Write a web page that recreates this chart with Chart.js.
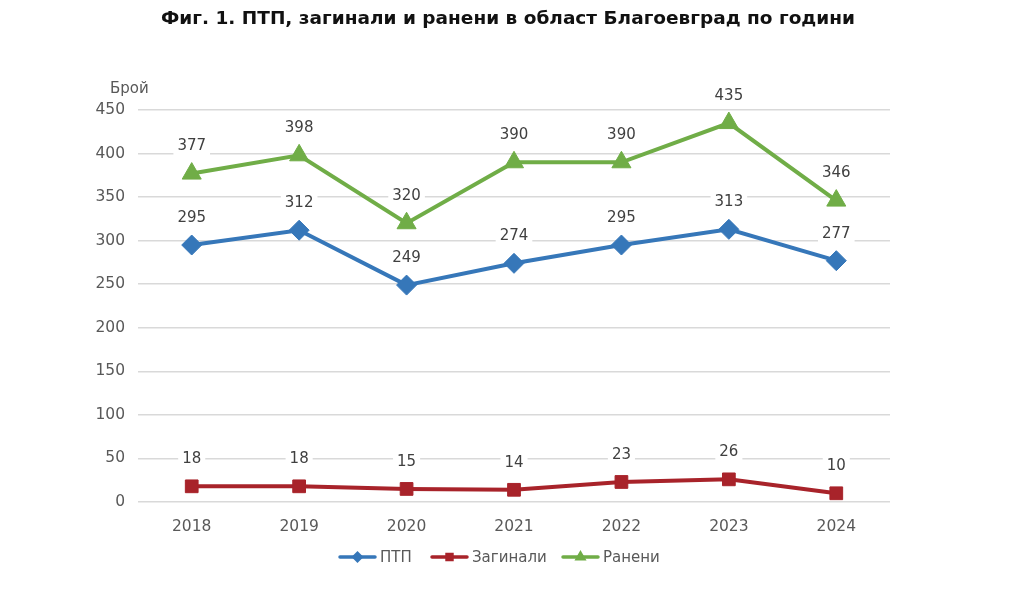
<!DOCTYPE html>
<html>
<head>
<meta charset="utf-8">
<script src="https://cdn.jsdelivr.net/npm/chart.js@4.4.1/dist/chart.umd.min.js"></script>
<style>
  body { margin: 0; background: #fff; }
  #wrap { width: 1024px; height: 605px; position: relative; }
</style>
</head>
<body>
<div id="wrap"><canvas id="myChart"></canvas></div>
<script>
var years = ["2018", "2019", "2020", "2021", "2022", "2023", "2024"];
var ptpValues = [295, 312, 249, 274, 295, 313, 277];
var deadValues = [18, 18, 15, 14, 23, 26, 10];
var injuredValues = [377, 398, 320, 390, 390, 435, 346];
var seriesNames = ["ПТП", "Загинали", "Ранени"];
var yTicks = [0, 50, 100, 150, 200, 250, 300, 350, 400, 450];

var titleText = "Фиг. 1. ПТП, загинали и ранени в област Благоевград по години";
var fontFam = "'DejaVu Sans', Verdana, sans-serif";

// labels above every point, on a white box
var valueLabels = {
  id: "valueLabels",
  afterDatasetsDraw(chart) {
    let ctx = chart.ctx;
    ctx.save();
    ctx.font = "15px " + fontFam;
    ctx.textAlign = "center";
    ctx.textBaseline = "middle";
    chart.data.datasets.forEach(function(ds, i) {
      let meta = chart.getDatasetMeta(i);
      meta.data.forEach(function(pt, j) {
        let txt = String(ds.data[j]);
        let w = ctx.measureText(txt).width + 8;
        let y = pt.y - 27;
        ctx.fillStyle = "#fff";
        ctx.fillRect(pt.x - w / 2, y - 10, w, 20);
        ctx.fillStyle = "#404040";
        ctx.fillText(txt, pt.x, y);
      });
    });
    ctx.restore();
  }
};

// title, axis caption and legend
var extras = {
  id: "extras",
  afterDraw(chart) {
    let ctx = chart.ctx;
    ctx.save();
    ctx.fillStyle = "#111";
    ctx.font = "bold 18.5px " + fontFam;
    ctx.textAlign = "center";
    ctx.textBaseline = "middle";
    ctx.fillText(titleText, 508, 19);

    ctx.fillStyle = "#595959";
    ctx.font = "15px " + fontFam;
    ctx.textAlign = "left";
    ctx.fillText("Брой", 110, 89);

    let items = [
      { x: 340, text: seriesNames[0], color: chart.data.datasets[0].borderColor, style: "rectRot" },
      { x: 432, text: seriesNames[1], color: chart.data.datasets[1].borderColor, style: "rect" },
      { x: 563, text: seriesNames[2], color: chart.data.datasets[2].borderColor, style: "triangle" }
    ];
    let ly = 557;
    items.forEach(function(it) {
      ctx.strokeStyle = it.color;
      ctx.lineWidth = 3.5;
      ctx.lineCap = "round";
      ctx.beginPath();
      ctx.moveTo(it.x, ly);
      ctx.lineTo(it.x + 35, ly);
      ctx.stroke();
      Chart.helpers.drawPoint(ctx, { pointStyle: it.style, radius: 3.5, borderWidth: 1 }, it.x + 17.5, ly);
      ctx.fillStyle = it.color;
      ctx.fill();
      ctx.fillStyle = "#595959";
      ctx.font = "15px " + fontFam;
      ctx.fillText(it.text, it.x + 40, ly + 1);
    });
    ctx.restore();
  }
};

function lineSet(label, data, color, style, r) {
  return {
    label: label,
    data: data,
    borderColor: color,
    backgroundColor: color,
    borderWidth: 4,
    pointStyle: style,
    pointRadius: r,
    pointHoverRadius: r,
    pointBorderWidth: 1,
    tension: 0
  };
}

new Chart("myChart", {
  type: "line",
  data: {
    labels: years,
    datasets: [
      lineSet(seriesNames[0], ptpValues, "#3677B9", "rectRot", 10),
      lineSet(seriesNames[1], deadValues, "#A8232A", "rect", 9),
      lineSet(seriesNames[2], injuredValues, "#70AD47", "triangle", 11)
    ]
  },
  options: {
    responsive: true,
    maintainAspectRatio: false,
    animation: false,
    layout: { padding: { left: 0, right: 134, top: 110, bottom: 0 } },
    plugins: { legend: { display: false }, title: { display: false }, tooltip: { enabled: false } },
    scales: {
      x: {
        offset: true,
        grid: { display: false },
        border: { display: false },
        ticks: { color: "#595959", font: { family: fontFam, size: 15.5 }, padding: 8 },
        afterFit: function(s) { s.height = 103; }
      },
      y: {
        min: 0,
        max: 450,
        afterBuildTicks: function(s) { s.ticks = yTicks.map(function(v) { return { value: v }; }); },
        grid: { color: "#d9d9d9", lineWidth: 1.5, drawTicks: false },
        border: { display: false },
        ticks: { color: "#595959", font: { family: fontFam, size: 15.5 }, padding: 13 },
        afterFit: function(s) { s.width = 138; }
      }
    }
  },
  plugins: [valueLabels, extras]
});
</script>
</body>
</html>
